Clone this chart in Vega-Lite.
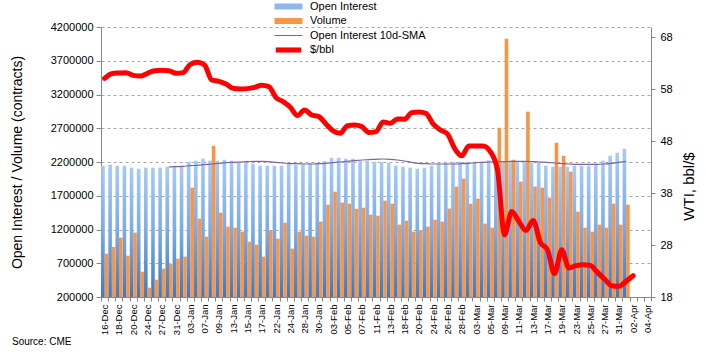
{
  "$schema": "https://vega.github.io/schema/vega-lite/v6.json",
  "width": 550,
  "height": 270,
  "autosize": {"type": "none"},
  "padding": {"left": 101, "top": 27, "right": 55, "bottom": 57},
  "background": "white",
  "config": {"font": "Liberation Sans", "view": {"stroke": null}},
  "title": {"text": "Source: CME", "orient": "bottom", "anchor": "start", "frame": "group", "fontSize": 10, "fontWeight": "normal", "color": "#000000", "dx": -89, "offset": 2},
  "data": {"values": [
    {"d":"16-Dec","oi":2145800,"vol":842200,"sma":null,"p":60.12},
    {"d":"17-Dec","oi":2160600,"vol":940900,"sma":null,"p":61.01},
    {"d":"18-Dec","oi":2145800,"vol":1079200,"sma":null,"p":61.14},
    {"d":"19-Dec","oi":2145800,"vol":812500,"sma":null,"p":61.21},
    {"d":"20-Dec","oi":2116200,"vol":1153300,"sma":null,"p":60.69},
    {"d":"23-Dec","oi":2101400,"vol":575500,"sma":null,"p":60.56},
    {"d":"24-Dec","oi":2116200,"vol":338500,"sma":null,"p":61.08},
    {"d":"26-Dec","oi":2116200,"vol":457000,"sma":null,"p":61.59},
    {"d":"27-Dec","oi":2116200,"vol":620000,"sma":null,"p":61.65},
    {"d":"30-Dec","oi":2131000,"vol":694000,"sma":2126000,"p":61.59},
    {"d":"31-Dec","oi":2145800,"vol":768000,"sma":2131000,"p":61.08},
    {"d":"02-Jan","oi":2145800,"vol":797700,"sma":2135900,"p":61.21},
    {"d":"03-Jan","oi":2205000,"vol":1819900,"sma":2145800,"p":62.81},
    {"d":"06-Jan","oi":2219900,"vol":1360700,"sma":2150700,"p":63.19},
    {"d":"07-Jan","oi":2249500,"vol":1094000,"sma":2160600,"p":62.68},
    {"d":"08-Jan","oi":2219900,"vol":2442100,"sma":2170500,"p":59.79},
    {"d":"09-Jan","oi":2219900,"vol":1449500,"sma":2180400,"p":59.54},
    {"d":"10-Jan","oi":2234700,"vol":1242100,"sma":2190200,"p":59.03},
    {"d":"13-Jan","oi":2219900,"vol":1227300,"sma":2195200,"p":58.19},
    {"d":"14-Jan","oi":2200100,"vol":1168100,"sma":2200100,"p":58.06},
    {"d":"15-Jan","oi":2185300,"vol":1019900,"sma":2205000,"p":58.13},
    {"d":"16-Jan","oi":2175400,"vol":975500,"sma":2210000,"p":58.38},
    {"d":"17-Jan","oi":2145800,"vol":797700,"sma":2210000,"p":58.77},
    {"d":"21-Jan","oi":2145800,"vol":1182900,"sma":2205000,"p":58.51},
    {"d":"22-Jan","oi":2145800,"vol":1064400,"sma":2195200,"p":56.40},
    {"d":"23-Jan","oi":2145800,"vol":1301400,"sma":2185300,"p":55.63},
    {"d":"24-Jan","oi":2175400,"vol":916200,"sma":2175400,"p":54.54},
    {"d":"27-Jan","oi":2160600,"vol":1168100,"sma":2175400,"p":52.94},
    {"d":"28-Jan","oi":2160600,"vol":1108800,"sma":2170500,"p":54.03},
    {"d":"29-Jan","oi":2185300,"vol":1094000,"sma":2170500,"p":53.06},
    {"d":"30-Jan","oi":2185300,"vol":1316200,"sma":2175400,"p":52.74},
    {"d":"31-Jan","oi":2214900,"vol":1568000,"sma":2180400,"p":51.33},
    {"d":"03-Feb","oi":2264300,"vol":1760600,"sma":2190200,"p":49.99},
    {"d":"04-Feb","oi":2264300,"vol":1597700,"sma":2200100,"p":49.54},
    {"d":"05-Feb","oi":2249500,"vol":1582900,"sma":2210000,"p":51.01},
    {"d":"06-Feb","oi":2249500,"vol":1508800,"sma":2219900,"p":51.14},
    {"d":"07-Feb","oi":2219900,"vol":1523600,"sma":2229700,"p":50.82},
    {"d":"10-Feb","oi":2219900,"vol":1419900,"sma":2234700,"p":49.67},
    {"d":"11-Feb","oi":2205000,"vol":1405100,"sma":2239600,"p":49.86},
    {"d":"12-Feb","oi":2205000,"vol":1627300,"sma":2244600,"p":51.72},
    {"d":"13-Feb","oi":2190200,"vol":1582900,"sma":2239600,"p":51.46},
    {"d":"14-Feb","oi":2145800,"vol":1271800,"sma":2229700,"p":52.29},
    {"d":"18-Feb","oi":2131000,"vol":1331000,"sma":2214900,"p":52.23},
    {"d":"19-Feb","oi":2116200,"vol":1168100,"sma":2195200,"p":53.51},
    {"d":"20-Feb","oi":2101400,"vol":1182900,"sma":2180400,"p":53.64},
    {"d":"21-Feb","oi":2116200,"vol":1242100,"sma":2175400,"p":53.38},
    {"d":"24-Feb","oi":2145800,"vol":1345800,"sma":2170500,"p":51.33},
    {"d":"25-Feb","oi":2175400,"vol":1316200,"sma":2170500,"p":50.18},
    {"d":"26-Feb","oi":2190200,"vol":1508800,"sma":2170500,"p":49.41},
    {"d":"27-Feb","oi":2205000,"vol":1834700,"sma":2170500,"p":46.65},
    {"d":"28-Feb","oi":2205000,"vol":1953200,"sma":2175400,"p":45.18},
    {"d":"02-Mar","oi":2205000,"vol":1582900,"sma":2180400,"p":47.10},
    {"d":"03-Mar","oi":2205000,"vol":1656900,"sma":2190200,"p":47.10},
    {"d":"04-Mar","oi":2205000,"vol":1286600,"sma":2195200,"p":47.10},
    {"d":"05-Mar","oi":2224800,"vol":1227300,"sma":2200100,"p":46.01},
    {"d":"06-Mar","oi":2205000,"vol":2708700,"sma":2205000,"p":42.49},
    {"d":"09-Mar","oi":2205000,"vol":4027200,"sma":2205000,"p":29.99},
    {"d":"10-Mar","oi":2219900,"vol":2234700,"sma":2210000,"p":34.47},
    {"d":"11-Mar","oi":2205000,"vol":1908800,"sma":2210000,"p":32.55},
    {"d":"12-Mar","oi":2205000,"vol":2945700,"sma":2210000,"p":30.82},
    {"d":"13-Mar","oi":2190200,"vol":1834700,"sma":2205000,"p":32.74},
    {"d":"16-Mar","oi":2190200,"vol":1819900,"sma":2200100,"p":28.51},
    {"d":"17-Mar","oi":2145800,"vol":1671700,"sma":2195200,"p":27.10},
    {"d":"18-Mar","oi":2131000,"vol":2486500,"sma":2185300,"p":22.49},
    {"d":"19-Mar","oi":2131000,"vol":2293900,"sma":2175400,"p":27.10},
    {"d":"20-Mar","oi":2131000,"vol":2056900,"sma":2170500,"p":23.58},
    {"d":"23-Mar","oi":2145800,"vol":1464300,"sma":2165500,"p":24.03},
    {"d":"24-Mar","oi":2145800,"vol":1227300,"sma":2165500,"p":24.22},
    {"d":"25-Mar","oi":2145800,"vol":1168100,"sma":2165500,"p":24.09},
    {"d":"26-Mar","oi":2175400,"vol":1271800,"sma":2165500,"p":22.74},
    {"d":"27-Mar","oi":2219900,"vol":1227300,"sma":2170500,"p":21.46},
    {"d":"30-Mar","oi":2293900,"vol":1582900,"sma":2180400,"p":20.18},
    {"d":"31-Mar","oi":2338400,"vol":1271800,"sma":2195200,"p":20.05},
    {"d":"01-Apr","oi":2397600,"vol":1568000,"sma":2210000,"p":21.01},
    {"d":"02-Apr","oi":null,"vol":null,"sma":null,"p":22.10},
    {"d":"03-Apr","oi":null,"vol":null,"sma":null,"p":null},
    {"d":"04-Apr","oi":null,"vol":null,"sma":null,"p":null}
  ]},
  "encoding": {
    "x": {
      "field": "d", "type": "ordinal",
      "scale": {"domain": ["16-Dec","17-Dec","18-Dec","19-Dec","20-Dec","23-Dec","24-Dec","26-Dec","27-Dec","30-Dec","31-Dec","02-Jan","03-Jan","06-Jan","07-Jan","08-Jan","09-Jan","10-Jan","13-Jan","14-Jan","15-Jan","16-Jan","17-Jan","21-Jan","22-Jan","23-Jan","24-Jan","27-Jan","28-Jan","29-Jan","30-Jan","31-Jan","03-Feb","04-Feb","05-Feb","06-Feb","07-Feb","10-Feb","11-Feb","12-Feb","13-Feb","14-Feb","18-Feb","19-Feb","20-Feb","21-Feb","24-Feb","25-Feb","26-Feb","27-Feb","28-Feb","02-Mar","03-Mar","04-Mar","05-Mar","06-Mar","09-Mar","10-Mar","11-Mar","12-Mar","13-Mar","16-Mar","17-Mar","18-Mar","19-Mar","20-Mar","23-Mar","24-Mar","25-Mar","26-Mar","27-Mar","30-Mar","31-Mar","01-Apr","02-Apr","03-Apr","04-Apr"], "paddingInner": 0, "paddingOuter": 0},
      "axis": {"title": null, "labelAngle": -90, "labelFontSize": 9.5, "labelColor": "#000000", "labelPadding": 3, "tickBand": "extent", "tickSize": 4, "tickColor": "#868686", "domainColor": "#868686", "labelExpr": "round(datum.index*76) % 2 === 0 ? datum.label : ''", "labelOverlap": false, "labelBound": false, "labelFlush": false, "grid": false}
    }
  },
  "layer": [
    {
      "layer": [
        {
          "mark": {"type": "bar", "width": 3.6, "xOffset": -1.6, "color": {"gradient": "linear", "x1": 0, "y1": 0, "x2": 0, "y2": 1, "stops": [{"offset": 0, "color": "#A6CBF8"}, {"offset": 0.5, "color": "#7BAAE8"}, {"offset": 1, "color": "#3B7AC6"}]}},
          "encoding": {
            "y": {"field": "oi", "type": "quantitative", "scale": {"domain": [200000, 4200000], "nice": false, "zero": false},
              "axis": {"title": "Open Interest / Volume (contracts)", "orient": "left", "values": [200000,700000,1200000,1700000,2200000,2700000,3200000,3700000,4200000], "tickCount": 20, "format": "d", "labelOverlap": false, "grid": true, "gridDash": [3,3], "gridColor": "#A8A8A8", "domainColor": "#868686", "tickColor": "#868686", "tickSize": 5, "labelPadding": 3, "labelFontSize": 11, "labelColor": "#000000", "titleFontSize": 14, "titleFontWeight": "normal", "titleColor": "#000000", "titleAngle": 270, "titleX": -84, "titleY": 135, "titleAlign": "center", "titleBaseline": "middle"}},
            "y2": {"datum": 200000}
          }
        },
        {
          "mark": {"type": "bar", "width": 3.6, "xOffset": 1.9, "color": "#F79646"},
          "encoding": {
            "y": {"field": "vol", "type": "quantitative"},
            "y2": {"datum": 200000}
          }
        },
        {
          "mark": {"type": "line", "strokeWidth": 1.2, "interpolate": "monotone"},
          "encoding": {
            "y": {"field": "sma", "type": "quantitative"},
            "color": {"datum": "Open Interest 10d-SMA", "type": "nominal",
              "scale": {"domain": ["Open Interest", "Volume", "Open Interest 10d-SMA", "$/bbl"], "range": ["#8DB8EE", "#F79646", "#8064A2", "#FF0000"]},
              "legend": {"orient": "none", "legendX": 171, "legendY": -26, "title": null, "padding": 0, "labelFontSize": 11, "labelColor": "#000000", "symbolSize": 36, "symbolStrokeWidth": 0, "labelOffset": 27, "rowPadding": 2.5,
                "encode": {"symbols": {"update": {
                  "shape": {"signal": "datum.value === 'Open Interest' || datum.value === 'Volume' ? 'M-1,-1H8.33V1H-1Z' : datum.value === '$/bbl' ? 'M-0.6,-0.85H7.9V0.85H-0.6Z' : 'M-1,-0.17H8.33V0.17H-1Z'"},
                  "fill": {"signal": "datum.value === 'Open Interest' ? '#8DB8EE' : datum.value === 'Volume' ? '#F79646' : datum.value === '$/bbl' ? '#FF0000' : '#8064A2'"},
                  "stroke": {"value": "transparent"},
                  "strokeWidth": {"value": 0},
                  "opacity": {"value": 1}
                }}}}
            }
          }
        }
      ]
    },
    {
      "mark": {"type": "line", "strokeWidth": 5, "interpolate": "monotone", "strokeCap": "round", "strokeJoin": "round"},
      "encoding": {
        "y": {"field": "p", "type": "quantitative", "scale": {"domain": [18, 70], "nice": false, "zero": false},
          "axis": {"title": "WTI, bbl/$", "orient": "right", "values": [18,28,38,48,58,68], "tickCount": 20, "labelOverlap": false, "grid": false, "domainColor": "#868686", "tickColor": "#868686", "tickSize": 4, "labelPadding": 5, "labelFontSize": 11, "labelColor": "#000000", "titleFontSize": 15, "titleFontWeight": "normal", "titleColor": "#000000", "titleAngle": 270, "titleX": 37, "titleY": 159, "titleAlign": "center", "titleBaseline": "middle"}},
        "color": {"datum": "$/bbl", "type": "nominal",
          "legend": {"orient": "none", "legendX": 171, "legendY": -26, "title": null, "padding": 0, "labelFontSize": 11, "labelColor": "#000000", "symbolSize": 36, "symbolStrokeWidth": 0, "labelOffset": 27, "rowPadding": 2.5,
            "encode": {"symbols": {"update": {
              "shape": {"signal": "datum.value === 'Open Interest' || datum.value === 'Volume' ? 'M-1,-1H8.33V1H-1Z' : datum.value === '$/bbl' ? 'M-0.6,-0.85H7.9V0.85H-0.6Z' : 'M-1,-0.17H8.33V0.17H-1Z'"},
              "fill": {"signal": "datum.value === 'Open Interest' ? '#8DB8EE' : datum.value === 'Volume' ? '#F79646' : datum.value === '$/bbl' ? '#FF0000' : '#8064A2'"},
              "stroke": {"value": "transparent"},
              "strokeWidth": {"value": 0},
              "opacity": {"value": 1}
            }}}}
        }
      }
    }
  ],
  "resolve": {"scale": {"y": "independent"}}
}
